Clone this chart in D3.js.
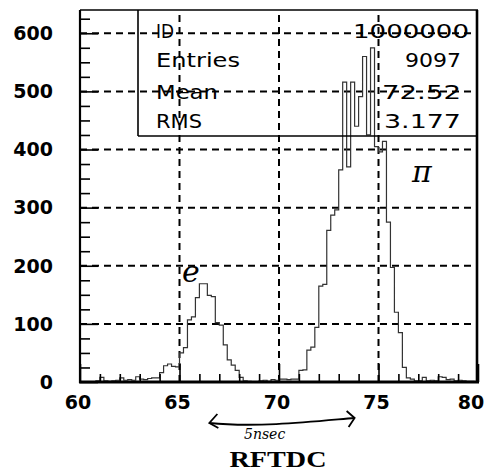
<!DOCTYPE html>
<html>
<head>
<meta charset="utf-8">
<script src="https://cdn.jsdelivr.net/npm/d3@7"></script>
<style>
  html, body { margin: 0; padding: 0; background: #fff; }
  svg { display: block; }
</style>
</head>
<body>
<svg id="chart" width="486" height="472"></svg>
<script>
// RFTDC histogram: 100 bins of width 0.2 between 60 and 80
const binStart = 60;
const binWidth = 0.2;
const counts = [
  0, 0, 0, 0, 2,        8, 2, 1, 2, 3,
  7, 3, 4, 3, 9,        5, 4, 6, 7, 7,
  16, 28, 31, 27, 26,   50, 59, 107, 112, 145,
  169, 169, 149, 147, 102,  98, 64, 38, 29, 20,
  8, 2, 1, 0, 0,        2, 3, 1, 4, 3,
  5, 5, 4, 5, 5,        20, 21, 55, 60, 94,
  165, 168, 261, 287, 296,  365, 516, 370, 516, 440,
  491, 560, 425, 575, 405,  396, 414, 275, 197, 120,
  85, 25, 7, 5, 2,      2, 8, 2, 3, 2,
  9, 8, 4, 5, 2,        3, 2, 1, 1, 0
];

// axis ticks
const xTickLabels = [60, 65, 70, 75, 80];
const yTickLabels = [0, 100, 200, 300, 400, 500, 600];
const xGrid = [65, 70, 75];
const yGrid = [100, 200, 300, 400, 500, 600];

// statistics box
const statNames = ["ID", "Entries", "Mean", "RMS"];
const statValues = ["1000000", "9097", "72.52", "3.177"];

const axisTitle = "RFTDC";

const svg = d3.select("#chart");

const x = d3.scaleLinear().domain([60, 80]).range([80, 478]);
const y = d3.scaleLinear().domain([0, 640]).range([382, 10]);

const ink = "#000";

// dashed grid
const grid = svg.append("g").attr("stroke", ink).attr("stroke-width", 2)
  .attr("stroke-dasharray", "7,5");
grid.selectAll("line.h").data(yGrid).join("line")
  .attr("x1", x(60)).attr("x2", x(80))
  .attr("y1", d => y(d)).attr("y2", d => y(d));
grid.selectAll("line.v").data(xGrid).join("line")
  .attr("x1", d => x(d)).attr("x2", d => x(d))
  .attr("y1", y(0)).attr("y2", y(640));

// histogram outline
const pts = counts.map((c, i) => [binStart + i * binWidth, c]);
pts.push([binStart + counts.length * binWidth, 0]);
const step = d3.line()
  .x(d => x(d[0])).y(d => y(d[1]))
  .curve(d3.curveStepAfter);
svg.append("path")
  .attr("d", step([[60, 0], ...pts]))
  .attr("fill", "none")
  .attr("stroke", "#333")
  .attr("stroke-width", 1.2);

// axes with inward ticks
const yMinor = d3.range(0, 641, 25);
const xMinor = d3.range(60, 80.01, 1);

const yAxis = d3.axisRight(y).tickValues(yMinor)
  .tickSize(10).tickFormat("");
svg.append("g").attr("transform", `translate(${x(60)},0)`).call(yAxis)
  .call(g => g.select(".domain").remove())
  .call(g => g.selectAll(".tick line")
    .attr("stroke", ink).attr("stroke-width", 1.6)
    .attr("x2", d => d % 100 === 0 ? 18 : 10));

const xAxis = d3.axisTop(x).tickValues(xMinor)
  .tickSize(8).tickFormat("");
svg.append("g").attr("transform", `translate(0,${y(0)})`).call(xAxis)
  .call(g => g.select(".domain").remove())
  .call(g => g.selectAll(".tick line")
    .attr("stroke", ink).attr("stroke-width", 1.6)
    .attr("y2", d => d % 5 === 0 ? -18 : -8));

// frame
svg.append("line").attr("x1", x(60)).attr("x2", x(60))
  .attr("y1", y(640)).attr("y2", y(0) + 1)
  .attr("stroke", ink).attr("stroke-width", 2.2);
svg.append("line").attr("x1", x(60) - 1).attr("x2", x(80) + 1)
  .attr("y1", y(0)).attr("y2", y(0))
  .attr("stroke", ink).attr("stroke-width", 3);
svg.append("line").attr("x1", x(60)).attr("x2", x(80))
  .attr("y1", y(640)).attr("y2", y(640))
  .attr("stroke", ink).attr("stroke-width", 1.5);
svg.append("line").attr("x1", x(80) - 1).attr("x2", x(80) - 1)
  .attr("y1", y(640)).attr("y2", y(0))
  .attr("stroke", ink).attr("stroke-width", 2.6);

// tick labels
svg.append("g").selectAll("text").data(yTickLabels).join("text")
  .attr("x", 53).attr("y", d => y(d))
  .attr("dy", "0.36em")
  .attr("text-anchor", "end")
  .attr("font-family", "DejaVu Sans")
  .attr("font-weight", "bold")
  .attr("font-size", 19)
  .attr("fill", ink)
  .text(d => d);

svg.append("g").selectAll("text").data(xTickLabels).join("text")
  .attr("x", d => Math.min(x(d) - 2, 471)).attr("y", 402)
  .attr("dy", "0.36em")
  .attr("text-anchor", "middle")
  .attr("font-family", "DejaVu Sans")
  .attr("font-weight", "bold")
  .attr("font-size", 19)
  .attr("fill", ink)
  .text(d => d);

// axis title
svg.append("text")
  .attr("x", 278).attr("y", 467)
  .attr("text-anchor", "middle")
  .attr("font-family", "Liberation Serif")
  .attr("font-weight", "bold")
  .attr("font-size", 24)
  .attr("textLength", 97)
  .attr("lengthAdjust", "spacingAndGlyphs")
  .attr("fill", ink)
  .text(axisTitle);

// statistics box
const boxLeft = 138, boxBottom = 136;
svg.append("line").attr("x1", boxLeft).attr("x2", boxLeft)
  .attr("y1", y(640)).attr("y2", boxBottom)
  .attr("stroke", ink).attr("stroke-width", 1.6);
svg.append("line").attr("x1", boxLeft).attr("x2", x(80))
  .attr("y1", boxBottom).attr("y2", boxBottom)
  .attr("stroke", ink).attr("stroke-width", 1.6);

const rowY = [31, 60, 92, 121];
const nameWidths = [18, 84, 62, 46];
const valueWidths = [116, 56, 79, 77];
const stats = svg.append("g")
  .attr("font-family", "DejaVu Sans")
  .attr("font-size", 19)
  .attr("fill", ink);
stats.selectAll("text.name").data(statNames).join("text")
  .attr("class", "name")
  .attr("x", 156).attr("y", (d, i) => rowY[i])
  .attr("dy", "0.36em")
  .attr("textLength", (d, i) => nameWidths[i])
  .attr("lengthAdjust", "spacingAndGlyphs")
  .text(d => d);
stats.selectAll("text.value").data(statValues).join("text")
  .attr("class", "value")
  .attr("x", (d, i) => (i === 0 ? 469 : 461) - valueWidths[i])
  .attr("y", (d, i) => rowY[i])
  .attr("dy", "0.36em")
  .attr("textLength", (d, i) => valueWidths[i])
  .attr("lengthAdjust", "spacingAndGlyphs")
  .text(d => d);

// hand-written notes: particle labels and the peak separation
const notes = svg.append("g").attr("fill", ink)
  .attr("font-family", "DejaVu Serif").attr("font-style", "italic");
notes.append("text").attr("x", 182).attr("y", 282)
  .attr("font-size", 30).text("e");
notes.append("text").attr("x", 412).attr("y", 182)
  .attr("font-size", 30).text("π");
notes.append("text").attr("x", 244).attr("y", 439)
  .attr("font-size", 14).text("5nsec");

const arrowY = 423;
svg.append("path")
  .attr("d", `M${x(66.5)},${arrowY} C${x(69)},${arrowY + 5} ${x(72)},${arrowY - 2} ${x(73.8)},${arrowY - 5}`)
  .attr("fill", "none").attr("stroke", ink).attr("stroke-width", 1.8);
svg.append("path")
  .attr("d", `M${x(66.5) + 8},${arrowY - 9} L${x(66.5)},${arrowY} L${x(66.5) + 9},${arrowY + 5}`)
  .attr("fill", "none").attr("stroke", ink).attr("stroke-width", 1.8);
svg.append("path")
  .attr("d", `M${x(73.8) - 8},${arrowY - 12} L${x(73.8)},${arrowY - 5} L${x(73.8) - 6},${arrowY + 4}`)
  .attr("fill", "none").attr("stroke", ink).attr("stroke-width", 1.8);
</script>
</body>
</html>
